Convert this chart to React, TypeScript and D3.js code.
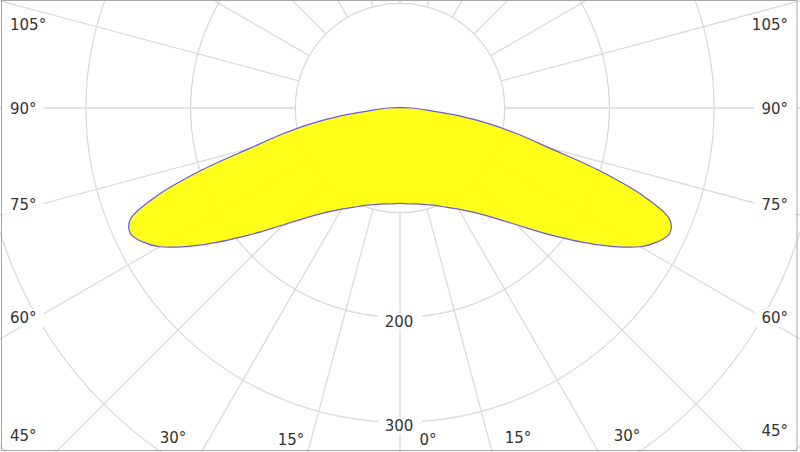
import React from "react";
import * as d3 from "d3";

// Photometric data (angle from nadir, symmetric on both sides), values in cd
const angles = [0, 5, 10, 15, 20, 25, 30, 35, 40, 45, 50, 55, 60, 62.5, 65, 67.5, 70, 72.5, 75, 77.5, 80, 82.5, 85, 90];
const intensity = [91, 92, 93, 95.5, 99, 104.5, 111.5, 121.5, 136, 158, 189, 227, 265, 277, 284, 279, 249, 201, 148, 115, 86, 56, 29, 11.5];

const ringValues = [100, 200, 300, 400, 500];
const ringLabels = ["200", "300"];
const gridAngles = d3.range(0, 181, 15);

const leftLabels = [
  { t: "105°", y: 25 },
  { t: "90°", y: 109 },
  { t: "75°", y: 205 },
  { t: "60°", y: 318 },
  { t: "45°", y: 436 },
];
const rightLabels = [
  { t: "105°", y: 25 },
  { t: "90°", y: 109 },
  { t: "75°", y: 205 },
  { t: "60°", y: 318 },
  { t: "45°", y: 431 },
];
const bottomLabels = [
  { t: "30°", x: 173, y: 438 },
  { t: "15°", x: 291, y: 440 },
  { t: "0°", x: 428, y: 440 },
  { t: "15°", x: 518, y: 438 },
  { t: "30°", x: 627, y: 436 },
];

const W = 800;
const H = 452;
const cx = 400;
const cy = 108;
const FS = 15;
const FONT = "'DejaVu Sans', Verdana, sans-serif";

const rScale = d3.scaleLinear().domain([0, 100]).range([0, 104.7]);

function textWidth(t: string) {
  let w = 0;
  for (const ch of t) w += ch === "°" ? 0.5 : 0.636;
  return w * FS;
}

export default function App() {
  // polar points: left side 90..0, right side 5..90 (closed)
  const pts: [number, number][] = [];
  for (let i = angles.length - 1; i >= 0; i--) {
    const a = (angles[i] * Math.PI) / 180;
    pts.push([Math.PI + a, rScale(intensity[i])]);
  }
  for (let i = 1; i < angles.length; i++) {
    const a = (angles[i] * Math.PI) / 180;
    pts.push([Math.PI - a, rScale(intensity[i])]);
  }
  const line = d3
    .lineRadial<[number, number]>()
    .angle((d) => d[0])
    .radius((d) => d[1])
    .curve(d3.curveCatmullRomClosed.alpha(0.5));
  const pathD = line(pts) || "";

  const r1 = rScale(100);
  const rMax = 800;
  const radials: { x1: number; y1: number; x2: number; y2: number }[] = [];
  for (const g of gridAngles) {
    for (const s of [-1, 1]) {
      if ((g === 0 || g === 180) && s === 1) continue;
      const a = (g * Math.PI) / 180;
      const dx = s * Math.sin(a);
      const dy = Math.cos(a);
      radials.push({ x1: cx + dx * r1, y1: cy + dy * r1, x2: cx + dx * rMax, y2: cy + dy * rMax });
    }
  }

  const gridStroke = "#dadada";
  const textColor = "#333";

  return (
    <svg
      width={W}
      height={H}
      style={{ position: "absolute", left: 0, top: 0, background: "#fff" }}
      fontFamily={FONT}
    >
      <rect x={0} y={0} width={W} height={H} fill="#fff" />
      <g stroke={gridStroke} strokeWidth={1.3} fill="none">
        {ringValues.map((v) => (
          <circle key={v} cx={cx} cy={cy} r={rScale(v)} />
        ))}
        {radials.map((l, i) => (
          <line key={i} x1={l.x1} y1={l.y1} x2={l.x2} y2={l.y2} />
        ))}
      </g>
      <g transform={`translate(${cx},${cy})`}>
        <path d={pathD} fill="#ffff00" fillOpacity={0.9} stroke="#6a5ae0" strokeWidth={1.2} />
      </g>
      {ringLabels.map((t) => {
        const v = +t;
        const y = cy + rScale(v) + 4;
        return (
          <g key={t}>
            <rect x={cx - 22} y={y - 8.5} width={44} height={17} fill="#fff" />
            <text x={cx - 1} y={y} dy="0.35em" textAnchor="middle" fontSize={FS} fill={textColor}>
              {t}
            </text>
          </g>
        );
      })}
      {leftLabels.map((l, i) => {
        const w = textWidth(l.t);
        return (
          <g key={"l" + i}>
            <rect x={2} y={l.y - 9} width={w + 8 + 7} height={18} fill="#fff" />
            <text x={10} y={l.y} dy="0.35em" fontSize={FS} fill={textColor}>
              {l.t}
            </text>
          </g>
        );
      })}
      {rightLabels.map((l, i) => {
        const w = textWidth(l.t);
        return (
          <g key={"r" + i}>
            <rect x={788 - w - 7} y={l.y - 9} width={w + 7 + 9} height={18} fill="#fff" />
            <text x={788} y={l.y} dy="0.35em" textAnchor="end" fontSize={FS} fill={textColor}>
              {l.t}
            </text>
          </g>
        );
      })}
      {bottomLabels.map((l, i) => {
        const w = textWidth(l.t);
        return (
          <g key={"b" + i}>
            <rect x={l.x - w / 2 - 2} y={l.y - 9} width={w + 4} height={18} fill="#fff" />
            <text x={l.x} y={l.y} dy="0.35em" textAnchor="middle" fontSize={FS} fill={textColor}>
              {l.t}
            </text>
          </g>
        );
      })}
      <rect x={1.5} y={0.5} width={795.5} height={450} fill="none" stroke="#a8a8a8" strokeWidth={1} />
    </svg>
  );
}
